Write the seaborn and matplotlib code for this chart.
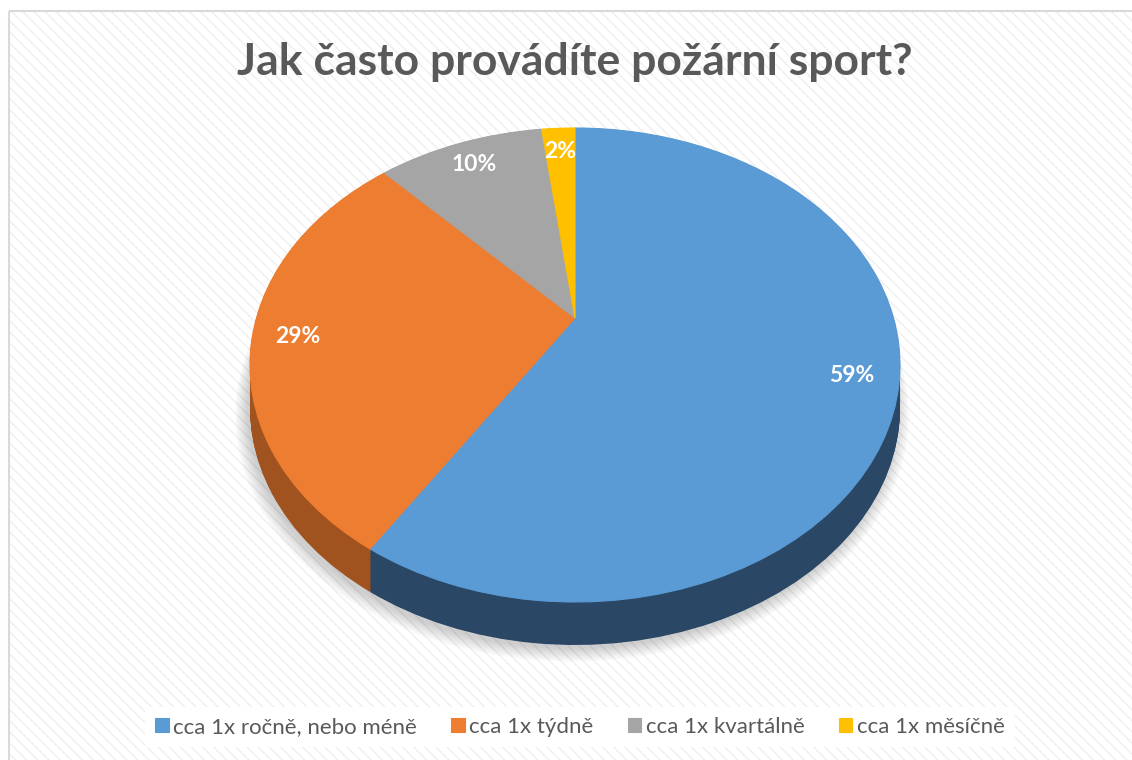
import numpy as np
import matplotlib.pyplot as plt
import seaborn as sns
from matplotlib.patches import Rectangle
from matplotlib.transforms import Transform, Affine2D

# data
categories = ["cca 1x ročně, nebo méně", "cca 1x týdně", "cca 1x kvartálně", "cca 1x měsíčně"]
values = [59, 29, 10, 2]
title = "Jak často provádíte požární sport?"

top_colors = sns.color_palette(["#5B9BD5", "#ED7D31", "#A5A5A5", "#FFC000"])
side_colors = sns.color_palette(["#2A4866", "#A0531F", "#6E6E6E", "#A88000"])

sns.set_theme(style="white")
plt.rcParams["font.family"] = ["Lato", "DejaVu Sans"]

W, H = 1132, 760
fig = plt.figure(figsize=(W / 100, H / 100), dpi=100)
fig.patch.set_facecolor("white")

# background with light diagonal stripes (axes in image pixel coords, y down)
bg = fig.add_axes([0, 0, 1, 1])
bg.set_xlim(0, W)
bg.set_ylim(H, 0)
bg.axis("off")
bg.add_patch(Rectangle((8.5, 10.5), W, H, facecolor="white", edgecolor="#efefef",
                       hatch="\\" * 3, lw=0))
bg.add_patch(Rectangle((8.5, 10.5), W, H, fill=False, edgecolor="#d9d9d9", lw=1.5))


# tilted pie: perspective map from the unit disc to the image
class Tilt(Transform):
    input_dims = output_dims = 2
    is_separable = False
    has_inverse = False

    def __init__(self, cx, y_back, y_front, y_apex, half_w):
        super().__init__()
        # y = (e*v + f) / (1 + h*v): back (v=1) -> y_back, front (v=-1) -> y_front
        self.cx = cx
        self.f = y_apex
        self.h = (y_front + y_back - 2 * y_apex) / (y_front - y_back)
        self.e = y_back * (1 + self.h) - y_apex
        self.a = half_w * np.sqrt(1 - self.h ** 2)

    def transform_non_affine(self, values):
        values = np.asarray(values, dtype=float)
        u, v = values[:, 0], values[:, 1]
        den = 1 + self.h * v
        return np.column_stack([self.cx + self.a * u / den, (self.e * v + self.f) / den])


tilt = Tilt(cx=575, y_back=128, y_front=602, y_apex=318, half_w=325)
depth = 43

ax = fig.add_axes([0, 0, 1, 1])
ax.axis("off")
start = dict(startangle=90, counterclock=False)


def place(artists, dy=0.0, dx=0.0):
    t = tilt + Affine2D().translate(dx, dy) + bg.transData
    for a in artists:
        a.set_transform(t)


# soft shadow
for k in range(8):
    w, _ = ax.pie(values, radius=1.0 + 0.005 * k, colors=["black"] * 4,
                  wedgeprops=dict(alpha=0.025, lw=0), **start)
    place(w, dy=depth + 4, dx=-3)

# side of the pie
n = 43
for i in range(n + 1):
    w, _ = ax.pie(values, colors=side_colors, wedgeprops=dict(lw=0), **start)
    place(w, dy=depth * (1 - i / n))

# top face
wedges, _, autotexts = ax.pie(values, colors=top_colors, autopct=lambda p: f"{p:.0f}%",
                              pctdistance=0.86, wedgeprops=dict(lw=0.8),
                              textprops=dict(color="white", fontsize=16.5, fontweight="bold"),
                              **start)
for w in wedges:
    w.set_edgecolor(w.get_facecolor())
place(wedges)
place(autotexts)

fig.text(575 / W, 1 - 62 / H, title, ha="center", va="center", fontsize=32,
         fontweight="bold", color="#595959")

leg = fig.legend(wedges, categories, loc="center", bbox_to_anchor=(580 / W, 1 - 727 / H),
                 ncol=4, frameon=True, facecolor="white", edgecolor="none", fancybox=False,
                 framealpha=1, fontsize=16, labelcolor="#595959", handlelength=0.6,
                 handleheight=0.6, handletextpad=0.2, columnspacing=1.55,
                 borderpad=0.45)

fig.savefig("out.png", dpi=100)
